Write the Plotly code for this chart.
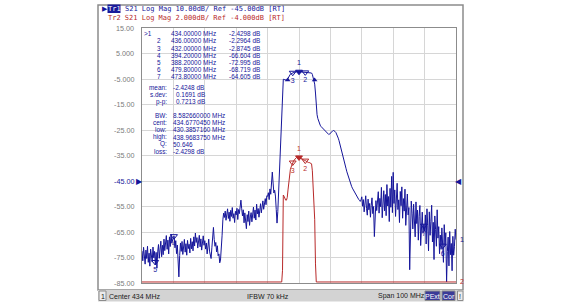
import numpy as np
import plotly.graph_objects as go

W, H = 563, 302

# ---------------- data ----------------
freq = np.linspace(384.0, 484.0, 401)  # MHz, 0.25 MHz step

s21 = [
    # 384 - 388.75
    -72.5, -76.3, -71.0, -74.8, -77.6, -72.1, -75.4, -70.6, -76.9, -73.3,
    -78.4, -71.7, -74.2, -76.8, -70.9, -75.1, -72.6, -77.8, -73.0, -79.2,
    # 389 - 393.75
    -72.8, -69.9, -75.3, -71.4, -68.6, -74.7, -70.2, -73.9, -67.8, -72.3,
    -69.5, -66.4, -71.8, -68.2, -73.6, -66.9, -70.7, -65.8, -69.4, -67.6,
    # 394 - 398.75
    -66.8, -66.6, -71.2, -68.4, -73.5, -70.1, -76.8, -82.6, -74.2, -69.3,
    -72.6, -68.7, -73.8, -70.4, -67.9, -72.9, -69.6, -74.1, -68.3, -71.5,
    # 399 - 403.75
    -69.8, -73.2, -67.5, -71.6, -68.8, -72.4, -66.9, -70.5, -65.4, -69.1,
    -67.2, -71.3, -68.0, -66.3, -70.8, -67.7, -72.1, -68.9, -66.5, -70.2,
    # 404 - 408.75
    -68.4, -71.7, -69.3, -73.6, -70.0, -67.8, -72.5, -74.9, -75.4, -71.2,
    -66.8, -63.2, -67.9, -70.6, -69.1, -72.8, -70.4, -74.3, -73.6, -77.1,
    # 409 - 413.75
    -76.0, -72.4, -66.5, -60.2, -57.6, -59.3, -56.8, -60.4, -58.1, -55.9,
    -59.7, -57.2, -60.8, -56.5, -58.9, -55.4, -59.6, -57.8, -61.3, -56.9,
    # 414 - 418.75
    -58.3, -55.7, -60.1, -56.2, -57.8, -54.6, -52.5, -55.9, -58.7, -56.3,
    -61.4, -57.5, -59.8, -63.7, -58.2, -60.9, -56.8, -62.4, -59.1, -57.4,
    # 419 - 423.75
    -61.0, -58.3, -55.2, -59.6, -56.4, -60.3, -54.1, -57.9, -55.8, -59.2,
    -56.7, -53.9, -57.5, -54.6, -52.8, -56.1, -53.4, -51.9, -54.3, -50.8,
    # 424 - 428.75
    -51.0, -49.6, -52.3, -48.1, -50.2, -46.4, -41.5, -45.8, -49.7, -48.6,
    -50.9, -56.2, -61.5, -57.0, -50.0, -43.0, -35.0, -27.0, -19.0, -11.0,
    # 429 - 433.75
    -5.1, -5.2, -5.4, -5.5, -5.5, -5.3, -4.7, -4.0, -3.5, -3.1,
    -2.9, -2.7, -2.55, -2.45, -2.35, -2.25, -2.2, -2.15, -2.1, -2.1,
    # 434 - 438.75
    -2.15, -2.15, -2.2, -2.25, -2.3, -2.3, -2.35, -2.4, -2.4, -2.45,
    -2.5, -2.5, -2.55, -2.55, -2.6, -2.6, -2.65, -3.2, -4.2, -5.5,
    # 439 - 443.75
    -7.0, -10.5, -15.5, -19.0, -20.5, -21.6, -22.5, -23.1, -23.6, -23.9,
    -24.2, -24.5, -24.8, -25.1, -25.5, -25.9, -26.4, -26.6, -26.8, -26.6,
    # 444 - 448.75
    -26.2, -25.8, -25.5, -25.3, -25.2, -25.3, -25.6, -26.0, -26.6, -27.3,
    -28.2, -29.2, -30.3, -31.5, -32.8, -34.0, -35.2, -36.5, -37.8, -39.0,
    # 449 - 453.75
    -40.2, -41.4, -42.5, -43.6, -44.6, -45.5, -46.3, -47.1, -47.8, -48.4,
    -49.0, -49.7, -50.3, -50.9, -51.5, -51.9, -52.2, -52.6, -53.0, -52.4,
    # 454 - 458.75
    -51.2, -54.9, -52.3, -57.1, -53.6, -50.8, -55.7, -58.4, -52.1, -56.3,
    -53.8, -59.2, -54.5, -51.6, -57.8, -55.0, -66.8, -58.1, -52.7, -56.6,
    # 459 - 463.75
    -53.4, -49.2, -57.6, -51.8, -55.1, -47.5, -59.4, -52.2, -48.8, -56.7,
    -50.3, -58.6, -46.4, -54.8, -51.1, -60.9, -47.9, -55.3, -43.2, -57.4,
    # 464 - 468.75
    -41.6, -53.8, -48.5, -58.9, -50.7, -45.9, -56.2, -52.4, -61.3, -49.1,
    -54.7, -47.3, -59.6, -51.9, -56.8, -48.2, -62.4, -53.6, -50.1, -58.3,
    # 469 - 473.75
    -55.4, -79.8, -60.2, -52.9, -57.6, -63.8, -54.1, -59.5, -66.9, -53.2,
    -61.7, -56.4, -68.2, -58.9, -54.6, -70.3, -60.1, -57.2, -65.5, -62.0,
    # 474 - 478.75
    -64.6, -58.3, -69.7, -55.9, -62.6, -72.4, -57.1, -66.3, -60.8, -54.5,
    -68.9, -61.2, -75.8, -58.7, -64.1, -70.6, -56.3, -67.4, -62.9, -73.5,
    # 479 - 484
    -66.2, -71.8, -63.4, -68.7, -76.9, -62.1, -70.4, -65.3, -84.6, -72.7,
    -67.0, -78.3, -64.8, -73.9, -69.5, -80.2, -66.7, -74.1, -70.8, -63.9,
    -68.0,
]

marker_ids = ["1", "2", "3", "4", "5", "6", "7"]
marker_freqs = [434.0, 436.0, 432.0, 394.2, 388.2, 479.8, 473.8]
marker_vals = [-2.4298, -2.2964, -2.8745, -66.604, -72.995, -68.719, -64.605]

# bandwidth search results
bw_low, bw_high, bw_loss = 430.3857160, 438.9683750, -2.4298

tr1_ticks = [15, 5, -5, -15, -25, -35, -45, -55, -65, -75, -85]
tr1_ticklabels = ["15.00", "5.000", "-5.000", "-15.00", "-25.00", "-35.00",
                  "-45.00", "-55.00", "-65.00", "-75.00", "-85.00"]

stats_labels = ["mean:", "s.dev:", "p-p:"]
stats_values = ["-2.4248 dB", "0.1691 dB", "0.7213 dB"]
bw_labels = ["BW:", "cent:", "low:", "high:", "Q:", "loss:"]
bw_values = ["8.582660000 MHz", "434.6770450 MHz", "430.3857160 MHz",
             "438.9683750 MHz", "50.646", "-2.4298 dB"]

tr1_header = "S21 Log Mag 10.00dB/ Ref -45.00dB [RT]"
tr2_header = "Tr2 S21 Log Mag 2.000dB/ Ref -4.000dB [RT]"
status_items = ["Center 434 MHz", "IFBW 70 kHz", "Span 100 MHz"]

# ---------------- styling ----------------
BLUE = "#15159a"
RED = "#b82a2a"
GRID = "#d6d6d6"
FRAME = "#8c8c8c"
TICKC = "#7a7a7a"
Y1 = [-85, 15]
Y2 = [-12, 8]
SANS = "Liberation Sans"
MONO = "DejaVu Sans Mono"
TS = 6.4  # marker table font size


def px(x):
    return x / W


def py(y):
    return 1 - y / H


fig = go.Figure()

s21 = np.array(s21)
# Tr2: same S21 data, 2 dB/div; off-scale points pinned to the graticule edge
s21_tr2 = np.clip(s21, Y2[0] + 0.08, Y2[1])

fig.add_trace(go.Scatter(x=freq, y=s21, mode="lines",
                         line=dict(color=BLUE, width=1), yaxis="y",
                         hoverinfo="skip", showlegend=False))
fig.add_trace(go.Scatter(x=freq, y=s21_tr2, mode="lines",
                         line=dict(color=RED, width=1), yaxis="y2",
                         hoverinfo="skip", showlegend=False))

# markers on traces
mf = np.array(marker_freqs)
m1 = np.interp(mf, freq, s21)
m2 = np.interp(mf, freq, s21_tr2)
sym = ["triangle-down"] + ["triangle-down-open"] * 6
tpos = ["top center"] + ["bottom center"] * 6
fig.add_trace(go.Scatter(x=mf, y=m1, mode="markers+text", text=marker_ids,
                         textposition=tpos, textfont=dict(family=SANS, size=7, color=BLUE),
                         marker=dict(symbol=sym, size=6, color=BLUE, line=dict(color=BLUE, width=1)),
                         yaxis="y", cliponaxis=False, showlegend=False, hoverinfo="skip"))
fig.add_trace(go.Scatter(x=mf[:3], y=m2[:3], mode="markers+text", text=marker_ids[:3],
                         textposition=tpos[:3], textfont=dict(family=SANS, size=7, color=RED),
                         marker=dict(symbol=sym[:3], size=6, color=RED, line=dict(color=RED, width=1)),
                         yaxis="y2", cliponaxis=False, showlegend=False, hoverinfo="skip"))
# bandwidth edge markers
fig.add_trace(go.Scatter(x=[bw_low, bw_high], y=[bw_loss - 3, bw_loss - 3], mode="markers",
                         marker=dict(symbol="triangle-up", size=5, color=BLUE),
                         yaxis="y", cliponaxis=False, showlegend=False, hoverinfo="skip"))

# stimulus indicators under the graticule
ybot = Y1[0] - 1.7
fig.add_trace(go.Scatter(x=mf[:3], y=[ybot] * 3, mode="markers",
                         marker=dict(symbol=["triangle-up", "triangle-up-open", "triangle-up-open"],
                                     size=8, color=BLUE, line=dict(color=BLUE, width=1)),
                         yaxis="y", cliponaxis=False, showlegend=False, hoverinfo="skip"))
fig.add_trace(go.Scatter(x=mf[3:], y=[ybot] * 4, mode="markers",
                         marker=dict(symbol="triangle-up", size=8, color="#dfe2ff",
                                     line=dict(color=RED, width=1)),
                         yaxis="y", cliponaxis=False, showlegend=False, hoverinfo="skip"))

shapes = []
ann = []


def txt(x, y, s, anchor="left", color=BLUE, size=7, family=SANS, yref="paper"):
    ann.append(dict(x=px(x), y=(py(y) if yref == "paper" else y), xref="paper", yref=yref,
                    text=s, showarrow=False, xanchor=anchor, yanchor="middle", borderpad=0,
                    font=dict(family=family, size=size, color=color)))


# outer instrument frame
shapes.append(dict(type="rect", xref="paper", yref="paper", x0=px(98), x1=px(463),
                   y0=py(290), y1=py(5), line=dict(color=FRAME, width=1.5), layer="below"))
# status bar
shapes.append(dict(type="rect", xref="paper", yref="paper", x0=px(98), x1=px(463.5),
                   y0=py(301.5), y1=py(290), fillcolor="#d3d3d3", line=dict(width=0)))
shapes.append(dict(type="rect", xref="paper", yref="paper", x0=px(99), x1=px(106),
                   y0=py(300.5), y1=py(291), fillcolor="#ececec", line=dict(color="#8c8c8c", width=1)))
for x0, x1, s, bg, fc in [(425, 440, "PExt", "#3b3b98", "white"),
                          (442, 455, "Cor", "#3b3b98", "white"),
                          (457.5, 463, "!", "#ececec", "#202020")]:
    shapes.append(dict(type="rect", xref="paper", yref="paper", x0=px(x0), x1=px(x1),
                       y0=py(300.5), y1=py(291), fillcolor=bg, line=dict(color="#8c8c8c", width=1)))
    txt((x0 + x1) / 2, 296, s, anchor="center", color=fc)
txt(102.5, 296, "1", anchor="center", color="#202020")
for xpos, s in zip([108, 246, 377], status_items):
    txt(xpos, 296, s, color="#202020")

# header lines
shapes.append(dict(type="rect", xref="paper", yref="paper", x0=px(107.5), x1=px(120.5),
                   y0=py(13), y1=py(4.5), fillcolor="#1a1a9a", line=dict(width=0)))
txt(101, 9, "\u25B6", family="DejaVu Sans")
txt(107, 9, "Tr1", color="white", family=MONO)
txt(123.5, 9, tr1_header, family=MONO)
txt(107, 18, tr2_header, color=RED, family=MONO)

# Tr1 scale labels
for v, t in zip(tr1_ticks, tr1_ticklabels):
    txt(135, v, t, anchor="right", size=7.2, color=BLUE if t == "-45.00" else TICKC, yref="y")
# reference position arrows
txt(139.5, -45, "\u25B6", anchor="center", size=8, family="DejaVu Sans", yref="y")
txt(458, -45, "\u25C0", anchor="center", size=8, family="DejaVu Sans", yref="y")
# trace end labels
txt(459, s21[-1], "1", yref="y")
ann.append(dict(x=px(459), y=s21_tr2[-1], xref="paper", yref="y2", text="2", showarrow=False,
                xanchor="left", yanchor="middle", borderpad=0,
                font=dict(family=SANS, size=7, color=RED)))

# marker table
row_y = [33.6, 40.8, 48.0, 55.2, 62.4, 69.6, 76.8]
for i, (mid, f, v) in enumerate(zip(marker_ids, marker_freqs, marker_vals)):
    if i == 0:
        txt(143, row_y[i], ">" + mid, size=TS)
    else:
        txt(162, row_y[i], mid, anchor="right", size=TS)
    txt(170, row_y[i], f"{f:.5f} MHz", size=TS)
    vtxt = f"{v:.4f} dB" if abs(v) < 10 else f"{v:.3f} dB"
    txt(260.5, row_y[i], vtxt, anchor="right", size=TS)

stat_y = [87.3, 94.5, 101.7]
for lab, val, yy in zip(stats_labels, stats_values, stat_y):
    txt(167.5, yy, lab, anchor="right", size=TS)
    txt(172 if val.startswith("-") else 174.5, yy, val, size=TS)
bw_y = [115.5, 122.7, 129.9, 137.1, 144.3, 151.5]
for lab, val, yy in zip(bw_labels, bw_values, bw_y):
    txt(167.5, yy, lab, anchor="right", size=TS)
    txt(172, yy, val, size=TS)

fig.update_layout(
    width=W, height=H,
    margin=dict(l=0, r=0, t=0, b=0),
    paper_bgcolor="white", plot_bgcolor="white",
    showlegend=False,
    xaxis=dict(domain=[px(142), px(456)], range=[384, 484], tick0=384, dtick=10,
               showgrid=True, gridcolor=GRID, gridwidth=1, showticklabels=False, ticks="",
               zeroline=False, showline=True, linecolor=FRAME, linewidth=1, mirror=True),
    yaxis=dict(domain=[py(283), py(28)], range=Y1, tick0=-85, dtick=10,
               showgrid=True, gridcolor=GRID, gridwidth=1, showticklabels=False, ticks="",
               zeroline=False, showline=True, linecolor=FRAME, linewidth=1, mirror=True),
    yaxis2=dict(overlaying="y", range=Y2, showgrid=False, showticklabels=False, ticks="",
                zeroline=False, showline=False),
    shapes=shapes,
    annotations=ann,
)

fig.write_html("out.html")
